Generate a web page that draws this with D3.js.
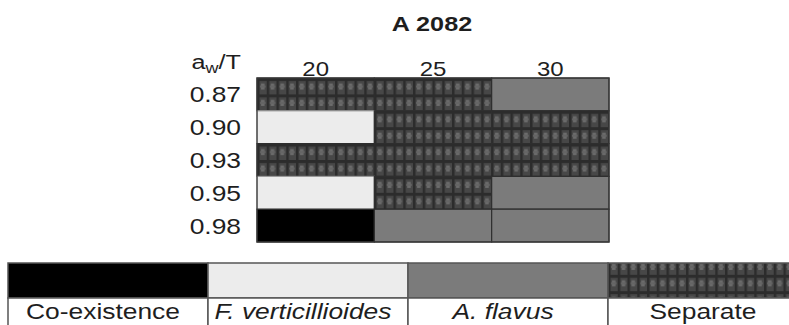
<!DOCTYPE html>
<html>
<head>
<meta charset="utf-8">
<script src="https://cdn.jsdelivr.net/npm/d3@7"></script>
<style>
  body { margin: 0; background: #fff; }
  svg { display: block; font-family: "Liberation Sans", Arial, sans-serif; }
</style>
</head>
<body>
<div id="chart"></div>
<script>
const title = "A 2082";
const temps = ["20", "25", "30"];
const aw = ["0.87", "0.90", "0.93", "0.95", "0.98"];
// outcome per row (aw), per column (temperature)
const outcomes = [
  ["Separate", "Separate", "A. flavus"],
  ["F. verticillioides", "Separate", "Separate"],
  ["Separate", "Separate", "Separate"],
  ["F. verticillioides", "Separate", "A. flavus"],
  ["Co-existence", "A. flavus", "A. flavus"]
];
const legendItems = ["Co-existence", "F. verticillioides", "A. flavus", "Separate"];
const italicItems = ["F. verticillioides", "A. flavus"];

const svgWidth = 789;
const svgHeight = 325;
const sx = 1.2; // the source picture is stretched horizontally

const svg = d3.select("#chart")
  .append("svg")
  .attr("width", svgWidth)
  .attr("height", svgHeight);

// crosshatch-like pattern for "Separate"
const defs = svg.append("defs");
const pat = defs.append("pattern")
  .attr("id", "sep")
  .attr("patternUnits", "userSpaceOnUse")
  .attr("x", 257).attr("y", 78)
  .attr("width", 9.75).attr("height", 16.4);
pat.append("rect").attr("width", 9.75).attr("height", 16.4).attr("fill", "#474747");
pat.append("rect").attr("width", 2.5).attr("height", 16.4).attr("fill", "#2c2c2c");
pat.append("rect").attr("width", 9.75).attr("height", 3).attr("fill", "#2c2c2c");
pat.append("rect").attr("x", 4).attr("y", 5.5).attr("width", 3.5).attr("height", 6).attr("fill", "#6c6c6c");
pat.append("rect").attr("x", 3).attr("y", 7.5).attr("width", 5.5).attr("height", 2).attr("fill", "#646464");

const fill = d3.scaleOrdinal()
  .domain(legendItems)
  .range(["#000000", "#ececec", "#7b7b7b", "url(#sep)"]);

const x = d3.scaleBand().domain(temps).range([257, 609]);
const y = d3.scaleBand().domain(aw).range([78, 242]);

function stretchedText(g, tx, ty, txt, size, anchor) {
  return g.append("text")
    .attr("transform", `translate(${tx},${ty}) scale(${sx},1)`)
    .attr("text-anchor", anchor)
    .attr("font-size", size)
    .attr("fill", "#1e1e1e")
    .text(txt);
}

// title
stretchedText(svg, 432, 31, title, 21, "middle").attr("font-weight", "bold");

// cells
const cells = [];
outcomes.forEach((row, i) => row.forEach((o, j) => cells.push({ aw: aw[i], t: temps[j], o })));

svg.append("g")
  .selectAll("rect")
  .data(cells)
  .join("rect")
  .attr("x", d => x(d.t))
  .attr("y", d => y(d.aw))
  .attr("width", x.bandwidth())
  .attr("height", y.bandwidth())
  .attr("fill", d => fill(d.o))
  .attr("stroke", d => d.o === "F. verticillioides" ? "#9a9a9a" : "#2e2e2e")
  .attr("stroke-width", 1.2);

svg.append("rect")
  .attr("x", 257).attr("y", 78)
  .attr("width", 352).attr("height", 164)
  .attr("fill", "none")
  .attr("stroke", "#3a3a3a")
  .attr("stroke-width", 1.2);

// column labels
temps.forEach(t => stretchedText(svg, x(t) + x.bandwidth() / 2, 76, t, 20, "middle"));

// row labels
aw.forEach(a => stretchedText(svg, 241, y(a) + y.bandwidth() / 2 + 8, a, 22, "end"));

// a_w/T header
const hdr = svg.append("text")
  .attr("transform", `translate(241,69) scale(${sx},1)`)
  .attr("text-anchor", "end")
  .attr("font-size", 21)
  .attr("fill", "#1e1e1e");
hdr.append("tspan").text("a");
hdr.append("tspan").attr("font-size", 15).attr("dy", 4).text("w");
hdr.append("tspan").attr("dy", -4).text("/T");

// legend
const lx = d3.scaleBand().domain(legendItems).range([8, 808]);
const lg = svg.append("g");
lg.selectAll(".sw")
  .data(legendItems)
  .join("rect")
  .attr("x", d => lx(d))
  .attr("y", 263)
  .attr("width", lx.bandwidth())
  .attr("height", 35)
  .attr("fill", d => fill(d))
  .attr("stroke", "#555")
  .attr("stroke-width", 1.5);
lg.selectAll(".cell")
  .data(legendItems)
  .join("rect")
  .attr("x", d => lx(d))
  .attr("y", 298)
  .attr("width", lx.bandwidth())
  .attr("height", 40)
  .attr("fill", "#fff")
  .attr("stroke", "#555")
  .attr("stroke-width", 1.5);
legendItems.forEach(d => {
  stretchedText(lg, lx(d) + lx.bandwidth() / 2 - 5, 319, d, 22, "middle")
    .attr("font-style", italicItems.includes(d) ? "italic" : "normal");
});
</script>
</body>
</html>
